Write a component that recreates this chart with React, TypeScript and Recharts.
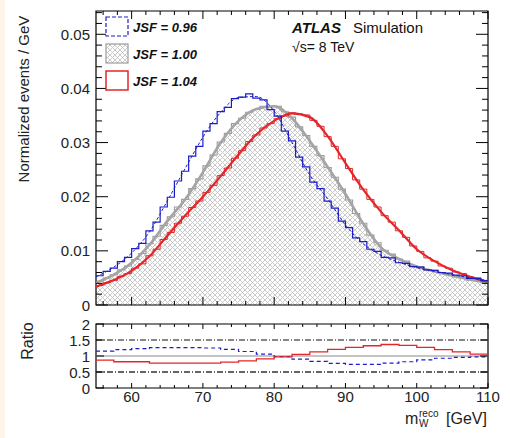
import React from "react";
import { ComposedChart, Line, Area, XAxis, YAxis, ReferenceLine, ReferenceArea } from "recharts";

// ---------- data ----------
const BIN_LOW = 55; // lower edge of first 1 GeV bin
const blueHist = [0.0054, 0.0062, 0.0068, 0.0080, 0.0088, 0.0104, 0.0114, 0.0137, 0.0153, 0.0181, 0.0199, 0.0229, 0.0247, 0.0275, 0.0293, 0.0321, 0.0335, 0.0357, 0.0365, 0.0381, 0.0384, 0.0390, 0.0382, 0.0379, 0.0361, 0.0349, 0.0321, 0.0303, 0.0273, 0.0255, 0.0227, 0.0215, 0.0192, 0.0179, 0.0155, 0.0143, 0.0124, 0.0117, 0.0103, 0.0099, 0.0088, 0.0087, 0.0078, 0.0077, 0.0071, 0.0070, 0.0065, 0.0064, 0.0060, 0.0059, 0.0055, 0.0054, 0.0049, 0.0049, 0.0045];
const grayHist = [0.0044, 0.0050, 0.0056, 0.0065, 0.0072, 0.0084, 0.0095, 0.0113, 0.0127, 0.0147, 0.0163, 0.0181, 0.0195, 0.0215, 0.0233, 0.0257, 0.0277, 0.0301, 0.0317, 0.0335, 0.0345, 0.0356, 0.0361, 0.0367, 0.0367, 0.0367, 0.0357, 0.0347, 0.0329, 0.0313, 0.0293, 0.0276, 0.0254, 0.0236, 0.0214, 0.0194, 0.0169, 0.0151, 0.0129, 0.0115, 0.0101, 0.0094, 0.0085, 0.0081, 0.0073, 0.0071, 0.0065, 0.0064, 0.0059, 0.0057, 0.0052, 0.0051, 0.0046, 0.0045, 0.0041];
const redHist = [0.0036, 0.0041, 0.0045, 0.0053, 0.0058, 0.0068, 0.0076, 0.0091, 0.0103, 0.0121, 0.0134, 0.0151, 0.0164, 0.0180, 0.0192, 0.0208, 0.0221, 0.0239, 0.0253, 0.0271, 0.0285, 0.0302, 0.0314, 0.0327, 0.0335, 0.0344, 0.0349, 0.0355, 0.0353, 0.0351, 0.0341, 0.0330, 0.0311, 0.0293, 0.0270, 0.0252, 0.0231, 0.0214, 0.0195, 0.0181, 0.0165, 0.0153, 0.0137, 0.0125, 0.0109, 0.0099, 0.0087, 0.0081, 0.0072, 0.0068, 0.0061, 0.0058, 0.0052, 0.0050, 0.0044];

const fitMass = [55, 57.5, 60, 62.5, 65, 67.5, 70, 72.5, 75, 77.5, 80, 82.5, 85, 87.5, 90, 92.5, 95, 97.5, 100, 102.5, 105, 107.5, 110];
const blueFit = [0.0052, 0.0070, 0.0096, 0.0135, 0.0192, 0.0252, 0.0310, 0.0356, 0.0383, 0.0385, 0.0358, 0.0300, 0.0240, 0.0196, 0.0148, 0.0113, 0.0092, 0.0079, 0.0069, 0.0062, 0.0056, 0.0050, 0.0045];
const grayFit = [0.0041, 0.0056, 0.0078, 0.0111, 0.0155, 0.0195, 0.0245, 0.0300, 0.0340, 0.0362, 0.0367, 0.0345, 0.0303, 0.0255, 0.0205, 0.0150, 0.0106, 0.0085, 0.0071, 0.0062, 0.0054, 0.0047, 0.0041];
const redFit = [0.0034, 0.0046, 0.0063, 0.0090, 0.0128, 0.0165, 0.0200, 0.0238, 0.0278, 0.0315, 0.0340, 0.0354, 0.0347, 0.0312, 0.0262, 0.0213, 0.0172, 0.0138, 0.0103, 0.0081, 0.0064, 0.0052, 0.0043];

const ratioMass = [55, 57.5, 60, 62.5, 65, 67.5, 70, 72.5, 75, 77.5, 80, 82.5, 85, 87.5, 90, 92.5, 95, 97.5, 100, 102.5, 105, 107.5, 110];
const blueRatio = [1.15, 1.20, 1.23, 1.26, 1.26, 1.26, 1.25, 1.21, 1.14, 1.06, 0.98, 0.90, 0.83, 0.77, 0.74, 0.74, 0.78, 0.82, 0.88, 0.93, 0.96, 0.97, 0.97];
const redRatio = [0.87, 0.82, 0.82, 0.78, 0.78, 0.78, 0.78, 0.81, 0.85, 0.91, 0.97, 1.05, 1.13, 1.21, 1.27, 1.32, 1.36, 1.33, 1.27, 1.20, 1.13, 1.06, 1.02];

const xMajor = [60, 70, 80, 90, 100, 110];
const xMinor = [56, 58, 62, 64, 66, 68, 72, 74, 76, 78, 82, 84, 86, 88, 92, 94, 96, 98, 102, 104, 106, 108];
const yMajor = [0, 0.01, 0.02, 0.03, 0.04, 0.05];
const yMinor = [0.002, 0.004, 0.006, 0.008, 0.012, 0.014, 0.016, 0.018, 0.022, 0.024, 0.026, 0.028, 0.032, 0.034, 0.036, 0.038, 0.042, 0.044, 0.046, 0.048, 0.052, 0.054];
const ratioTicks = [0, 0.5, 1, 1.5, 2];
const legendLabels = ["JSF = 0.96", "JSF = 1.00", "JSF = 1.04"];

// ---------- tables ----------
const nBins = blueHist.length;
const histRows = blueHist.map((b, i) => ({ m: BIN_LOW + i, b, g: grayHist[i], r: redHist[i] }));
histRows.push({ m: BIN_LOW + nBins, b: blueHist[nBins - 1], g: grayHist[nBins - 1], r: redHist[nBins - 1] });
const fitRows = fitMass.map((m, i) => ({ m, b: blueFit[i], g: grayFit[i], r: redFit[i] }));
const ratioRows = ratioMass.map((m, i) => ({ m, b: blueRatio[i], r: redRatio[i] }));

// ---------- layout ----------
const W = 510;
const PL = 96;
const PR = 488;
const PW = PR - PL;
const MAIN_TOP = 11;
const MAIN_BOT = 305;
const MAIN_CHART_H = 320;
const MAIN_H = MAIN_BOT - MAIN_TOP;
const RATIO_CHART_TOP = 310;
const RATIO_CHART_H = 128;
const RATIO_TOP = 14;
const RATIO_BOT = 78;
const RATIO_H = RATIO_BOT - RATIO_TOP;
const FONT = "'Liberation Sans', Arial, Helvetica, sans-serif";
const BLUE = "#1c1cc8";
const RED = "#e3262a";
const GRAY = "#9c9c9c";

const isMajorX = (v: number) => xMajor.includes(v);
const isMajorY = (v: number) => yMajor.some((t) => Math.abs(t - v) < 1e-9);

const MainXTick = (props: any) => {
  const { x, y, payload } = props;
  const len = isMajorX(payload.value) ? 8 : 4;
  return (
    <g>
      <line x1={x} y1={y} x2={x} y2={y - len} stroke="#000" strokeWidth={1} />
      <line x1={x} y1={y - MAIN_H} x2={x} y2={y - MAIN_H + len} stroke="#000" strokeWidth={1} />
    </g>
  );
};

const MainYTick = (props: any) => {
  const { x, y, payload } = props;
  const major = isMajorY(payload.value);
  const len = major ? 12 : 6;
  return (
    <g>
      <line x1={x} y1={y} x2={x + len} y2={y} stroke="#000" strokeWidth={1} />
      <line x1={x + PW} y1={y} x2={x + PW - len} y2={y} stroke="#000" strokeWidth={1} />
      {major && (
        <text x={x - 6} y={y + 5.5} textAnchor="end" fontSize={15} fontFamily={FONT} fill="#222">
          {String(payload.value)}
        </text>
      )}
    </g>
  );
};

const RatioXTick = (props: any) => {
  const { x, y, payload } = props;
  const major = isMajorX(payload.value);
  const len = major ? 5 : 3;
  return (
    <g>
      <line x1={x} y1={y} x2={x} y2={y - len} stroke="#000" strokeWidth={1} />
      <line x1={x} y1={y - RATIO_H} x2={x} y2={y - RATIO_H + len} stroke="#000" strokeWidth={1} />
      {major && (
        <text x={x} y={y + 14} textAnchor="middle" fontSize={15} fontFamily={FONT} fill="#222">
          {String(payload.value)}
        </text>
      )}
    </g>
  );
};

const RatioYTick = (props: any) => {
  const { x, y, payload } = props;
  return (
    <g>
      <line x1={x} y1={y} x2={x + 8} y2={y} stroke="#000" strokeWidth={1} />
      <line x1={x + PW} y1={y} x2={x + PW - 8} y2={y} stroke="#000" strokeWidth={1} />
      <text x={x - 6} y={y + 5.5} textAnchor="end" fontSize={15} fontFamily={FONT} fill="#222">
        {String(payload.value)}
      </text>
    </g>
  );
};

const HatchDef = ({ id }: { id: string }) => (
  <pattern id={id} patternUnits="userSpaceOnUse" width="5" height="5">
    <rect width="5" height="5" fill="#ffffff" />
    <path d="M0,0 L5,5 M5,0 L0,5" stroke="#c4c4c4" strokeWidth="0.9" />
  </pattern>
);

export default function App() {
  return (
    <div style={{ position: "absolute", left: 0, top: 0, width: W, height: 438, background: "#fff", overflow: "hidden" }}>
      <div style={{ position: "absolute", left: 0, top: 0, width: 5, height: 438, background: "#fcf5e8" }} />
      <div style={{ position: "absolute", left: 0, top: 0 }}>
        <ComposedChart width={W} height={MAIN_CHART_H} margin={{ top: MAIN_TOP, right: W - PR, left: 0, bottom: 0 }}>
          <defs>
            <HatchDef id="hatchMain" />
          </defs>
          <XAxis
            dataKey="m"
            type="number"
            domain={[55, 110]}
            allowDataOverflow
            ticks={[...xMinor, ...xMajor].sort((a, b) => a - b)}
            interval={0}
            tick={<MainXTick />}
            tickLine={false}
            axisLine={false}
            tickSize={0}
            tickMargin={0}
            height={MAIN_CHART_H - MAIN_BOT}
          />
          <YAxis
            type="number"
            domain={[0, 0.0543]}
            allowDataOverflow
            ticks={[...yMajor, ...yMinor].sort((a, b) => a - b)}
            interval={0}
            tick={<MainYTick />}
            tickLine={false}
            axisLine={false}
            tickSize={0}
            tickMargin={0}
            width={PL}
          />
          <Area data={histRows} type="stepAfter" dataKey="g" stroke={GRAY} strokeWidth={1.1} fill="url(#hatchMain)" fillOpacity={1} isAnimationActive={false} dot={false} activeDot={false} />
          <Line data={fitRows} type="monotone" dataKey="g" stroke="#a4a4a4" strokeWidth={2.6} dot={false} activeDot={false} isAnimationActive={false} />
          <Line data={histRows} type="stepAfter" dataKey="r" stroke={RED} strokeWidth={1} dot={false} activeDot={false} isAnimationActive={false} />
          <Line data={fitRows} type="monotone" dataKey="r" stroke={RED} strokeWidth={2.2} dot={false} activeDot={false} isAnimationActive={false} />
          <Line data={histRows} type="stepAfter" dataKey="b" stroke={BLUE} strokeWidth={1.2} dot={false} activeDot={false} isAnimationActive={false} />
          <Line data={fitRows} type="monotone" dataKey="b" stroke={BLUE} strokeWidth={1} strokeDasharray="3 2" dot={false} activeDot={false} isAnimationActive={false} />
          <ReferenceArea x1={55} x2={110} y1={0} y2={0.0543} fill="none" fillOpacity={0} stroke="#000" strokeWidth={1.2} ifOverflow="visible" />
        </ComposedChart>
      </div>

      <div style={{ position: "absolute", left: 0, top: RATIO_CHART_TOP }}>
        <ComposedChart width={W} height={RATIO_CHART_H} margin={{ top: RATIO_TOP, right: W - PR, left: 0, bottom: 0 }}>
          <XAxis
            dataKey="m"
            type="number"
            domain={[55, 110]}
            allowDataOverflow
            ticks={[...xMinor, ...xMajor].sort((a, b) => a - b)}
            interval={0}
            tick={<RatioXTick />}
            tickLine={false}
            axisLine={false}
            tickSize={0}
            tickMargin={0}
            height={RATIO_CHART_H - RATIO_BOT}
          />
          <YAxis
            type="number"
            domain={[0, 2]}
            allowDataOverflow
            ticks={ratioTicks}
            interval={0}
            tick={<RatioYTick />}
            tickLine={false}
            axisLine={false}
            tickSize={0}
            tickMargin={0}
            width={PL}
          />
          <ReferenceLine y={1.5} stroke="#111" strokeWidth={1.2} strokeDasharray="6 2 1 2" ifOverflow="visible" />
          <ReferenceLine y={0.5} stroke="#333" strokeWidth={1.6} strokeDasharray="6 2 1 2" ifOverflow="visible" />
          <ReferenceLine y={1} stroke="#b0b0b0" strokeWidth={1.6} ifOverflow="visible" />
          <Line data={ratioRows} type="stepAfter" dataKey="b" stroke={BLUE} strokeWidth={1.2} strokeDasharray="4 3" dot={false} activeDot={false} isAnimationActive={false} />
          <Line data={ratioRows} type="stepAfter" dataKey="r" stroke={RED} strokeWidth={1.3} dot={false} activeDot={false} isAnimationActive={false} />
          <ReferenceArea x1={55} x2={110} y1={0} y2={2} fill="none" fillOpacity={0} stroke="#000" strokeWidth={1.2} ifOverflow="visible" />
        </ComposedChart>
      </div>

      <svg width={W} height={438} style={{ position: "absolute", left: 0, top: 0, pointerEvents: "none" }}>
        <defs>
          <HatchDef id="hatchLegend" />
        </defs>
        {/* legend */}
        <rect x={106} y={17} width={22} height={19} fill="#fff" stroke={BLUE} strokeWidth={1.2} strokeDasharray="4 2" />
        <rect x={106} y={44} width={22} height={19} fill="url(#hatchLegend)" stroke={GRAY} strokeWidth={1.2} />
        <rect x={106} y={71} width={22} height={19} fill="#fff" stroke={RED} strokeWidth={1.5} />
        {legendLabels.map((t, i) => (
          <text key={t} x={133} y={32 + i * 27} fontSize={13} fontWeight="bold" fontStyle="italic" fontFamily={FONT} fill="#111">
            {t}
          </text>
        ))}
        {/* ATLAS label */}
        <text x={292} y={33} fontSize={15} fontWeight="bold" fontStyle="italic" fontFamily={FONT} fill="#111">ATLAS</text>
        <text x={353} y={33} fontSize={15} fontFamily={FONT} fill="#111">Simulation</text>
        <text x={292} y={52} fontSize={14} fontFamily={FONT} fill="#111">√s= 8 TeV</text>
        {/* axis titles */}
        <text x={29} y={99} transform="rotate(-90 29 99)" textAnchor="middle" fontSize={15} fontFamily={FONT} fill="#222">
          Normalized events / GeV
        </text>
        <text x={33} y={341} transform="rotate(-90 33 341)" textAnchor="middle" fontSize={16} fontFamily={FONT} fill="#222">
          Ratio
        </text>
        <text x={405} y={424} fontSize={16} fontFamily={FONT} fill="#222">m</text>
        <text x={419} y={417} fontSize={10} fontFamily={FONT} fill="#222">reco</text>
        <text x={419} y={427} fontSize={10} fontFamily={FONT} fill="#222">W</text>
        <text x={446} y={424} fontSize={16} fontFamily={FONT} fill="#222">[GeV]</text>
      </svg>
    </div>
  );
}
